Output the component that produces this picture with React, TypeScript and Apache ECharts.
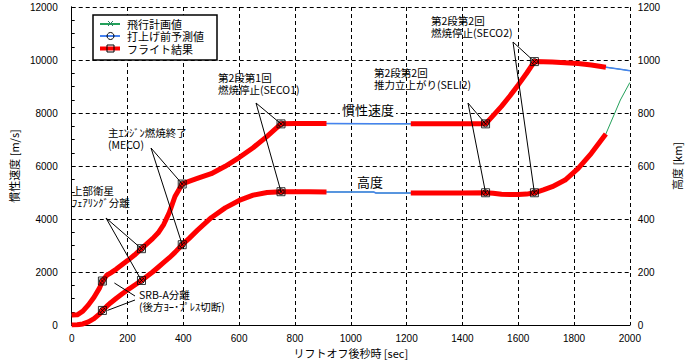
import React, { useEffect, useRef } from "react";
import * as echarts from "echarts";

// ---- data ----
const xTicks = [0, 200, 400, 600, 800, 1000, 1200, 1400, 1600, 1800, 2000];
const velocityTicks = [0, 2000, 4000, 6000, 8000, 10000, 12000];
const altitudeTicks = [0, 200, 400, 600, 800, 1000, 1200];

const resultTime = [0, 20, 40, 60, 80, 100, 110, 125, 140, 160, 180, 200, 225, 250, 270, 290, 310, 330, 350, 370, 396, 420, 450, 500, 550, 600, 650, 700, 750, 800, 850, 913, 1000, 1215, 1300, 1400, 1483, 1510, 1540, 1570, 1600, 1630, 1658, 1690, 1722, 1768, 1815, 1862, 1914];
const resultVelocity: (number | null)[] = [380, 385, 520, 760, 1050, 1400, 1660, 1870, 1970, 2110, 2270, 2430, 2640, 2880, 3070, 3260, 3480, 3800, 4250, 4850, 5320, 5420, 5530, 5710, 5990, 6320, 6690, 7120, 7590, 7600, 7600, 7600, null, 7590, 7590, 7590, 7590, 7900, 8250, 8640, 9060, 9500, 9940, 9935, 9920, 9900, 9865, 9810, 9730];
const resultAltitude: (number | null)[] = [0, 1, 4, 12, 24, 42, 55, 70, 84, 101, 117, 132, 150, 168, 184, 200, 218, 236, 254, 274, 303, 326, 357, 405, 442, 470, 490, 500, 503, 503, 503, 502, null, 498, 498, 498, 499, 497, 493, 492, 492, 494, 499, 510, 522, 547, 591, 648, 721];

const coastTime = [913, 1082, 1090, 1215];
const coastVelocity = [7600, 7595, 7595, 7590];
const coastAltitude = [502, 502, 498, 498];

const tailTime = [1914, 1966, 2000];
const predictionTailVelocity = [9730, 9648, 9597];
const planTailAltitude = [721, 849, 915];

const eventTime = [110, 250, 396, 750, 1483, 1658];
const eventVelocity = [1660, 2880, 5320, 7590, 7590, 9940];
const eventAltitude = [55, 168, 303, 503, 499, 499];

const seriesNames = ["飛行計画値", "打上げ前予測値", "フライト結果"];

// ---- styling / layout ----
const JP = '"Noto Sans CJK JP", "Noto Sans", sans-serif';
const NUM = '"Liberation Sans", Arial, sans-serif';
const GREEN = "#23a05a";
const BLUE = "#4682f0";
const RED = "#ff0000";

type Pt = (number | string)[];
const pairs = (t: number[], v: (number | null)[]): Pt[] => t.map((x, i) => [x, v[i] == null ? "-" : (v[i] as number)]);
const merge = (...lists: Pt[][]): Pt[] => {
  const map = new Map<number, number>();
  lists.forEach((l) => l.forEach((p) => { if (p[1] !== "-") map.set(p[0] as number, p[1] as number); }));
  return Array.from(map.entries()).sort((a, b) => a[0] - b[0]).map(([t, v]) => [t, v]);
};

const annotations = [
  { text: "SRB-A分離\n(後方ﾖｰ･ﾌﾟﾚｽ切断)", x: 139, y: 288, from: [[135, 296], [135, 300]], ends: [[0, 0, 12, 2], [0, 1, 5, 0]] },
  { text: "上部衛星\nﾌｪｱﾘﾝｸﾞ分離", x: 72, y: 184, from: [[106, 218], [106, 218]], ends: [[1, 0, 0, 0], [1, 1, 0, 0]] },
  { text: "主ｴﾝｼﾞﾝ燃焼終了\n(MECO)", x: 108, y: 126, from: [[151, 148], [151, 148]], ends: [[2, 0, 0, 0], [2, 1, 0, 0]] },
  { text: "第2段第1回\n燃焼停止(SECO1)", x: 218, y: 71, from: [[256, 103], [256, 103]], ends: [[3, 0, 0, 0], [3, 1, 0, 0]] },
  { text: "第2段第2回\n推力立上がり(SELI2)", x: 374, y: 66, from: [[468, 103], [468, 103]], ends: [[4, 0, 0, 0], [4, 1, 0, 0]] },
  { text: "第2段第2回\n燃焼停止(SECO2)", x: 431, y: 14, from: [[513, 42], [513, 42]], ends: [[5, 0, 0, 0], [5, 1, 0, 0]] },
];

export default function App() {
  const ref = useRef<HTMLDivElement>(null);
  useEffect(() => {
    if (!ref.current) return;
    const chart = echarts.init(ref.current, undefined, { renderer: "svg" });

    const resVel = pairs(resultTime, resultVelocity);
    const resAlt = pairs(resultTime, resultAltitude);
    const predVel = merge(resVel, pairs(coastTime, coastVelocity), pairs(tailTime, predictionTailVelocity));
    const predAlt = merge(resAlt, pairs(coastTime, coastAltitude));
    const planVel = predVel;
    const planAlt = merge(resAlt, pairs(coastTime, coastAltitude), pairs(tailTime, planTailAltitude));
    const evVel = pairs(eventTime, eventVelocity);
    const evAlt = pairs(eventTime, eventAltitude);

    const lineSeries = (name: string, data: Pt[], yIdx: number, color: string, width: number, z: number) => ({
      type: "line", name, data, xAxisIndex: 0, yAxisIndex: yIdx, showSymbol: false, symbol: "none", connectNulls: false,
      lineStyle: { color, width, cap: "butt", join: "round" }, itemStyle: { color }, z, silent: true,
    });
    const markerSeries = (name: string, data: Pt[], yIdx: number, symbol: string, size: number) => ({
      type: "scatter", name, data, xAxisIndex: 0, yAxisIndex: yIdx, symbol, symbolSize: size, z: 20, silent: true,
      itemStyle: { color: "transparent", borderColor: "#000", borderWidth: 1 },
    });
    const cross = "path://M0,0L10,10M10,0L0,10";

    const dashed = () => ({ show: true, lineStyle: { color: "#000", type: [4, 3], width: 1 } });
    const plain = (v: number) => String(v);

    chart.setOption({
      animation: false,
      backgroundColor: "#fff",
      grid: { left: 60, right: 57, top: 7, bottom: 39 },
      xAxis: [
        {
          type: "value", min: xTicks[0], max: xTicks[xTicks.length - 1], interval: 200, position: "bottom",
          name: "リフトオフ後秒時 [sec]", nameLocation: "middle", nameGap: 21,
          nameTextStyle: { fontFamily: JP, fontSize: 11, color: "#000" },
          axisLine: { show: true, lineStyle: { color: "#000", width: 1 } }, axisTick: { show: false },
          axisLabel: { fontFamily: NUM, fontSize: 10, color: "#000", margin: 8, formatter: plain },
          splitLine: dashed(),
        },
        {
          type: "value", min: xTicks[0], max: xTicks[xTicks.length - 1], interval: 200, position: "top",
          axisLine: { show: true, lineStyle: { color: "#000", width: 1 } }, axisTick: { show: false },
          axisLabel: { show: false }, splitLine: { show: false },
        },
      ],
      yAxis: [
        {
          type: "value", min: velocityTicks[0], max: velocityTicks[velocityTicks.length - 1], interval: 2000,
          name: "慣性速度 [m/s]", nameLocation: "middle", nameGap: 44, nameRotate: 90,
          nameTextStyle: { fontFamily: JP, fontSize: 11, color: "#000" },
          axisLine: { show: true, lineStyle: { color: "#000", width: 1 } },
          axisTick: { show: true, inside: true, length: 3, lineStyle: { color: "#000" } },
          minorTick: { show: true, splitNumber: 4, length: 3, lineStyle: { color: "#000" } },
          axisLabel: { fontFamily: NUM, fontSize: 10, color: "#000", margin: 14, formatter: plain },
          splitLine: dashed(),
        },
        {
          type: "value", min: altitudeTicks[0], max: altitudeTicks[altitudeTicks.length - 1], interval: 200,
          position: "right",
          name: "高度 [km]", nameLocation: "middle", nameGap: 38, nameRotate: 90,
          nameTextStyle: { fontFamily: JP, fontSize: 11, color: "#000" },
          axisLine: { show: true, lineStyle: { color: "#000", width: 1 } }, axisTick: { show: false },
          axisLabel: { fontFamily: NUM, fontSize: 10, color: "#000", margin: 8, formatter: plain },
          splitLine: { show: false },
        },
      ],
      series: [
        lineSeries(seriesNames[0], planVel, 0, GREEN, 1, 2),
        lineSeries(seriesNames[0], planAlt, 1, GREEN, 1, 2),
        lineSeries(seriesNames[1], predVel, 0, BLUE, 1.5, 3),
        lineSeries(seriesNames[1], predAlt, 1, BLUE, 1.5, 3),
        lineSeries(seriesNames[2], resVel, 0, RED, 5, 4),
        lineSeries(seriesNames[2], resAlt, 1, RED, 5, 4),
        markerSeries(seriesNames[2] + " 事象", evVel, 0, "rect", 8),
        markerSeries(seriesNames[2] + " 事象", evAlt, 1, "rect", 8),
        markerSeries(seriesNames[1] + " 事象", evVel, 0, "circle", 6),
        markerSeries(seriesNames[1] + " 事象", evAlt, 1, "circle", 6),
        markerSeries(seriesNames[0] + " 事象", evVel, 0, cross, 5),
        markerSeries(seriesNames[0] + " 事象", evAlt, 1, cross, 5),
      ],
    });

    const graphic: any[] = [];
    // curve labels
    graphic.push({ type: "text", x: 368, y: 109, z: 50, style: { text: "慣性速度", font: `13px ${JP}`, fill: "#000", align: "center", verticalAlign: "middle", backgroundColor: "#fff", padding: [0, 2], lineHeight: 14 } });
    graphic.push({ type: "text", x: 370, y: 181, z: 50, style: { text: "高度", font: `13px ${JP}`, fill: "#000", align: "center", verticalAlign: "middle", lineHeight: 14 } });

    // annotations with leader lines to the event markers
    annotations.forEach((a) => {
      graphic.push({ type: "text", x: a.x, y: a.y, z: 50, style: { text: a.text, font: `10.5px ${JP}`, fill: "#000", verticalAlign: "top", lineHeight: 12 } });
      a.ends.forEach((e, i) => {
        const [ev, axis, dx, dy] = e;
        const val = axis === 0 ? eventVelocity[ev] : eventAltitude[ev];
        const p = chart.convertToPixel({ xAxisIndex: 0, yAxisIndex: axis }, [eventTime[ev], val]) as number[];
        graphic.push({ type: "line", z: 45, shape: { x1: a.from[i][0], y1: a.from[i][1], x2: p[0] + dx, y2: p[1] + dy }, style: { stroke: "#000", lineWidth: 1 } });
      });
    });

    // legend box
    const lx = 93, ly = 15;
    graphic.push({ type: "rect", z: 60, shape: { x: lx, y: ly, width: 124, height: 45 }, style: { fill: "#fff", stroke: "#000", lineWidth: 1.5 } });
    const rows = [24, 36, 48.5];
    const lineColors = [GREEN, BLUE, RED];
    const lineWidths = [2, 2, 4];
    rows.forEach((y, i) => {
      graphic.push({ type: "line", z: 61, shape: { x1: 100, y1: y, x2: 120, y2: y }, style: { stroke: lineColors[i], lineWidth: lineWidths[i] } });
      graphic.push({ type: "text", z: 62, x: 127, y, style: { text: seriesNames[i], font: `11px ${JP}`, fill: "#000", verticalAlign: "middle", lineHeight: 12 } });
    });
    graphic.push({ type: "line", z: 62, shape: { x1: 108, y1: 21, x2: 113, y2: 26 }, style: { stroke: "#2a7d62", lineWidth: 1 } });
    graphic.push({ type: "line", z: 62, shape: { x1: 113, y1: 21, x2: 108, y2: 26 }, style: { stroke: "#2a7d62", lineWidth: 1 } });
    graphic.push({ type: "circle", z: 62, shape: { cx: 110.5, cy: 36, r: 3.5 }, style: { fill: "none", stroke: "#000", lineWidth: 1 } });
    graphic.push({ type: "rect", z: 62, shape: { x: 107, y: 45, width: 7, height: 7 }, style: { fill: "none", stroke: "#000", lineWidth: 1 } });

    chart.setOption({ graphic });

    return () => chart.dispose();
  }, []);
  return <div ref={ref} style={{ position: "fixed", left: 0, top: 0, width: 690, height: 364, background: "#fff" }} />;
}
